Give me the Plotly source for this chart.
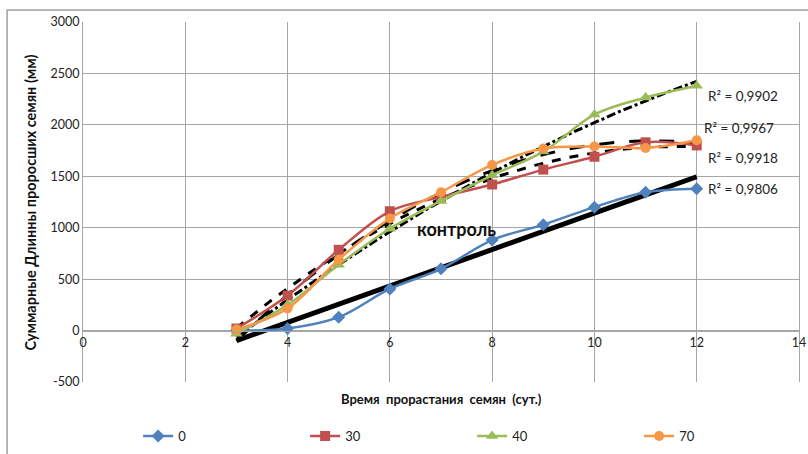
import numpy as np
import plotly.graph_objects as go

days = [3, 4, 5, 6, 7, 8, 9, 10, 11, 12]
s0 = [0, 20, 130, 405, 600, 880, 1030, 1200, 1345, 1380]
s30 = [20, 340, 785, 1160, 1300, 1420, 1565, 1690, 1830, 1800]
s40 = [-30, 250, 640, 990, 1260, 1510, 1740, 2100, 2265, 2380]
s70 = [10, 215, 690, 1090, 1345, 1610, 1770, 1790, 1775, 1850]
names = ["0", "30", "40", "70"]
colors = ["#4F81BD", "#C0504D", "#9BBB59", "#F79646"]
symbols = ["diamond", "square", "triangle-up", "circle"]
msizes = [10, 10, 11, 10]
r2_labels = ["R\u00b2 = 0,9902", "R\u00b2 = 0,9967", "R\u00b2 = 0,9918", "R\u00b2 = 0,9806"]
r2_pos_y = [2285, 1974, 1682, 1380]
x_ticks = [0, 2, 4, 6, 8, 10, 12, 14]
y_ticks = [-500, 0, 500, 1000, 1500, 2000, 2500, 3000]
y_ticktext = ["-500", "0", "500", "1000", "1500", "2000", "2500", "3000"]

series = [s0, s30, s40, s70]
fig = go.Figure()

# trend lines (computed from the data)
xd = np.linspace(3, 12, 200)
trend_specs = [(1, "solid", 5), (2, "dash", 3), (2, "dashdot", 3), (2, "longdash", 3)]
for s, (deg, dash, w) in zip(series, trend_specs):
    c = np.polyfit(days, s, deg)
    fig.add_trace(go.Scatter(x=xd, y=np.polyval(c, xd), mode="lines",
                             line=dict(color="black", width=w, dash=dash),
                             showlegend=False, hoverinfo="skip"))

for s, n, c, sym, ms in zip(series, names, colors, symbols, msizes):
    fig.add_trace(go.Scatter(x=days, y=s, name=n, mode="lines+markers",
                             line=dict(color=c, width=2.5, shape="spline"),
                             marker=dict(symbol=sym, size=ms, color=c)))

font = "Lato, 'Open Sans', sans-serif"
y0frac = 500 / 3500
fig.update_layout(
    width=808, height=454,
    margin=dict(l=83, r=9, t=22, b=72, autoexpand=False),
    paper_bgcolor="white", plot_bgcolor="white",
    font=dict(family=font, size=12, color="#222"),
    xaxis=dict(range=[0, 14], tickvals=x_ticks, showgrid=True, gridcolor="#A6A6A6",
               gridwidth=1, zeroline=False, anchor="free", position=y0frac,
               showline=True, linecolor="#A6A6A6", ticks="", tickfont=dict(size=12.5)),
    yaxis=dict(range=[-500, 3000], tickvals=y_ticks, ticktext=y_ticktext, showgrid=True,
               gridcolor="#A6A6A6", gridwidth=1, zeroline=True, zerolinecolor="#A6A6A6",
               zerolinewidth=1, showline=True, mirror=True, linecolor="#A6A6A6", ticks="",
               tickfont=dict(size=12.5)),
    legend=dict(orientation="h", x=0.077, xref="paper", y=-0.15, yanchor="middle",
                xanchor="left", entrywidth=122, entrywidthmode="pixels",
                font=dict(size=13), itemwidth=30),
    showlegend=True,
)

annotations = [
    dict(text="<b>контроль</b>", x=7.3, y=990, xref="x", yref="y", showarrow=False,
         font=dict(size=18, color="#111")),
    dict(text="<b>Время\u00a0 прорастания\u00a0 семян\u00a0 (сут.)</b>", x=0.5, y=-0.02,
         xref="paper", yref="paper", xanchor="center", yanchor="top", showarrow=False,
         font=dict(size=13, color="#111")),
    dict(text="<b>Суммарные Длинны проросших семян (мм)</b>", x=-0.088, y=0.5, xref="paper",
         yref="paper", textangle=-90, showarrow=False, font=dict(size=14.5, color="#111")),
]
for t, yv in zip(r2_labels, r2_pos_y):
    xl = 12.18 if t != r2_labels[1] else 12.1
    annotations.append(dict(text=t, x=xl, y=yv, xref="x", yref="y", xanchor="left",
                            showarrow=False, font=dict(size=13.5, color="#222")))
fig.update_layout(annotations=annotations)

fig.add_shape(type="rect", xref="paper", yref="paper", x0=-0.106, y0=-0.3, x1=1.05, y1=1.033,
              line=dict(color="#A0A0A0", width=1.5), fillcolor="rgba(0,0,0,0)", layer="below")

fig.write_html("out.html", config={"displayModeBar": False},
               post_script="document.body.style.margin='0';")
